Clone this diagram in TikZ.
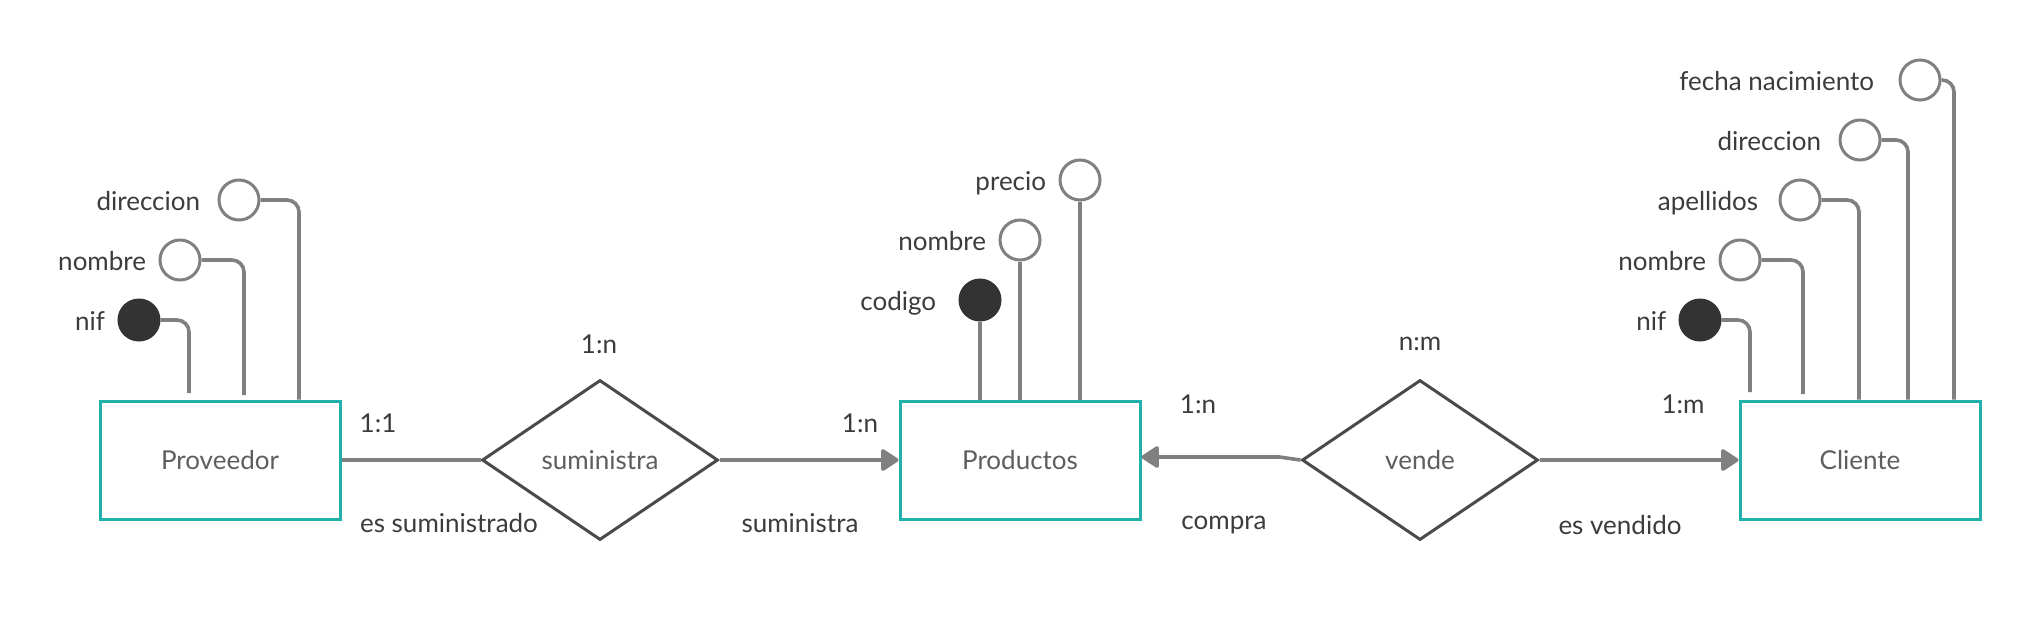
\documentclass[tikz,border=0pt]{standalone}
\usepackage{fontspec}
\setmainfont{Lato}
\usetikzlibrary{arrows.meta,positioning,shapes.geometric}
\definecolor{entcol}{HTML}{20B2AA}
\definecolor{lnkcol}{HTML}{808080}
\definecolor{diacol}{HTML}{4A4A4A}
\definecolor{txtcol}{HTML}{3C3C3C}
\definecolor{boxtxt}{HTML}{5E5E5E}
\definecolor{keycol}{HTML}{333333}

\tikzset{
  entity/.style={draw=entcol, line width=1.5pt, minimum width=120pt, minimum height=59pt, inner sep=0pt, text=boxtxt},
  relation/.style={diamond, draw=diacol, line width=1.5pt, minimum width=118pt, minimum height=80pt, inner sep=0pt, fill=white, text=boxtxt},
  attr/.style={circle, draw=lnkcol, line width=1.5pt, minimum size=20pt, inner sep=0pt, fill=white},
  keyattr/.style={attr, draw=keycol, fill=keycol},
  attrlbl/.style={text=txtcol, inner sep=0pt, text height=1em, text depth=0pt},
  card/.style={text=txtcol, inner sep=0pt},
  link/.style={draw=lnkcol, line width=1.8pt, rounded corners=6pt},
  arr/.style={draw=lnkcol, line width=1.8pt, -{Triangle[length=9.5pt,width=12pt,round]}},
}

\begin{document}
\begin{tikzpicture}[x=0.5pt, y=-0.5pt, font=\fontsize{13}{15}\selectfont]
  \useasboundingbox[fill=white] (0,0) rectangle (2021,639);

  %%%%% entities and relations %%%%%
  \node[entity] (prov) at (220,460) {Proveedor};
  \node[entity] (prod) at (1020,460) {Productos};
  \node[entity] (cli) at (1860,460) {Cliente};

  \node[relation] (sumi) at (600,460) {suministra};
  \node[relation] (vende) at (1420,460) {vende};

  %%%%% Proveedor attributes %%%%%
  \node[keyattr] (pnif) at (139,320) {};
  \node[attr] (pnom) at (180,260) {};
  \node[attr] (pdir) at (239,200) {};
  \node[attrlbl, left=6pt of pnif] (pnifl) {nif};
  \node[attrlbl, left=6pt of pnom] (pnoml) {nombre};
  \node[attrlbl, left=8.5pt of pdir] (pdirl) {direccion};

  \draw[link] (pnif.east) -| (189,393);
  \draw[link] (pnom.east) -| (244,395);
  \draw[link] (pdir.east) -| (prov.north -| 299,0);

  %%%%% Productos attributes %%%%%
  \node[keyattr] (rcod) at (980,300) {};
  \node[attr] (rnom) at (1020,240) {};
  \node[attr] (rpre) at (1080,180) {};
  \node[attrlbl, left=11pt of rcod] (rcodl) {codigo};
  \node[attrlbl, left=6pt of rnom] (rnoml) {nombre};
  \node[attrlbl, left=6pt of rpre] (rprel) {precio};

  \draw[link] (rcod.south) -- (rcod.south |- prod.north);
  \draw[link] (rnom.south) -- (prod.north);
  \draw[link] (rpre.south) -- (rpre.south |- prod.north);

  %%%%% Cliente attributes %%%%%
  \node[keyattr] (cnif) at (1700,320) {};
  \node[attr] (cnom) at (1740,260) {};
  \node[attr] (cape) at (1800,200) {};
  \node[attr] (cdir) at (1860,140) {};
  \node[attr] (cfec) at (1920,80) {};
  \node[attrlbl, left=6pt of cnif] (cnifl) {nif};
  \node[attrlbl, left=6pt of cnom] (cnoml) {nombre};
  \node[attrlbl, left=10pt of cape] (capel) {apellidos};
  \node[attrlbl, left=8.5pt of cdir] (cdirl) {direccion};
  \node[attrlbl, left=12pt of cfec] (cfecl) {fecha nacimiento};

  \draw[link] (cnif.east) -| (1750,392);
  \draw[link] (cnom.east) -| (1803,394);
  \draw[link] (cape.east) -| (cli.north -| 1859,0);
  \draw[link] (cdir.east) -| (cli.north -| 1908,0);
  \draw[link] (cfec.east) -| (cli.north -| 1954,0);

  %%%%% relationships %%%%%
  \draw[link] (prov.east) -- (sumi.west);
  \draw[arr] (sumi.east) -- (prod.west);
  \draw[arr] (vende.west) -- ++(-21,-3) coordinate (kink) -- (kink -| prod.east);
  \draw[arr] (vende.east) -- (cli.west);

  %%%%% cardinalities %%%%%
  \node[card] (c11) at (378,423) {1:1};
  \node[card] (cesum) at (449,523) {es suministrado};
  \node[card] (c1n) at (599,344) {1:n};
  \node[card] (c1nb) at (860,423) {1:n};
  \node[card] (csum) at (800,523) {suministra};
  \node[card] (c1nc) at (1198,404) {1:n};
  \node[card] (ccom) at (1224,525) {compra};
  \node[card] (cnm) at (1420,344) {n:m};
  \node[card] (c1m) at (1683,404) {1:m};
  \node[card] (cesv) at (1620,525) {es vendido};
\end{tikzpicture}
\end{document}
